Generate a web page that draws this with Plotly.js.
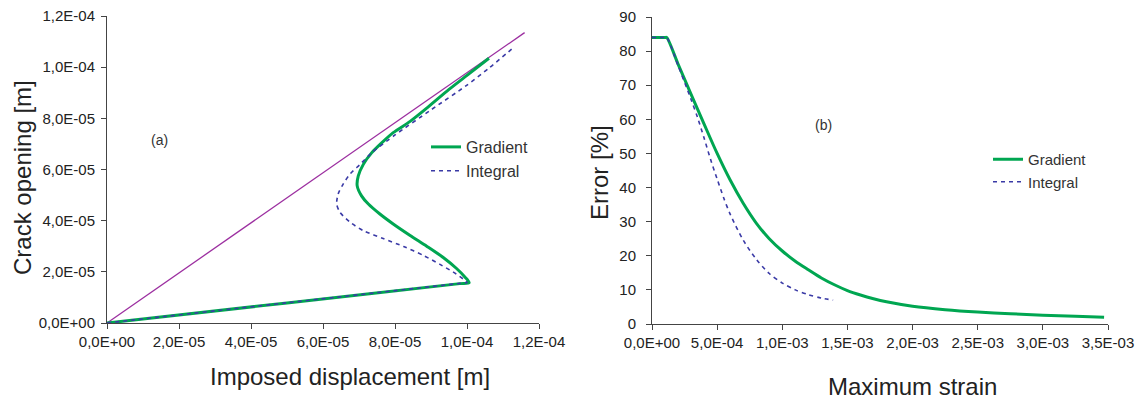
<!DOCTYPE html>
<html>
<head>
<meta charset="utf-8">
<script src="https://cdn.plot.ly/plotly-3.0.1.min.js"></script>
<style>html,body{margin:0;padding:0;background:#fff;}#chart{width:1141px;height:401px;}</style>
</head>
<body>
<div id="chart"></div>
<script>
// ---- Panel (a): crack opening vs imposed displacement ----
const refLineX = [0, 1.16e-4];
const refLineY = [0, 1.135e-4];

const gradAX = [0, 5.0e-5, 9.8e-5, 1.006e-4, 0.994e-4, 0.971e-4, 0.934e-4, 0.888e-4, 0.842e-4, 0.795e-4, 0.758e-4, 0.726e-4, 0.707e-4, 0.695e-4, 0.698e-4, 0.712e-4, 0.735e-4, 0.763e-4, 0.795e-4, 0.842e-4, 0.890e-4, 0.950e-4, 1.000e-4, 1.061e-4];
const gradAY = [0, 7.85e-6, 1.539e-5, 1.58e-5, 1.80e-5, 2.13e-5, 2.56e-5, 3.00e-5, 3.42e-5, 3.87e-5, 4.26e-5, 4.65e-5, 4.97e-5, 5.36e-5, 5.75e-5, 6.20e-5, 6.65e-5, 7.04e-5, 7.44e-5, 7.88e-5, 8.42e-5, 9.13e-5, 9.68e-5, 1.035e-4];

const intAX = [0, 5.0e-5, 9.8e-5, 1.0e-4, 0.994e-4, 0.962e-4, 0.925e-4, 0.879e-4, 0.824e-4, 0.769e-4, 0.712e-4, 0.675e-4, 0.647e-4, 0.638e-4, 0.642e-4, 0.656e-4, 0.675e-4, 0.703e-4, 0.735e-4, 0.800e-4, 0.900e-4, 1.000e-4, 1.060e-4, 1.132e-4];
const intAY = [0, 7.9e-6, 1.548e-5, 1.58e-5, 1.67e-5, 1.99e-5, 2.29e-5, 2.64e-5, 2.99e-5, 3.29e-5, 3.61e-5, 3.94e-5, 4.33e-5, 4.65e-5, 5.04e-5, 5.43e-5, 5.82e-5, 6.20e-5, 6.65e-5, 7.35e-5, 8.33e-5, 9.30e-5, 9.95e-5, 1.08e-4];

const tickAX = [0, 2e-5, 4e-5, 6e-5, 8e-5, 1e-4, 1.2e-4];
const tickAXText = ["0,0E+00", "2,0E-05", "4,0E-05", "6,0E-05", "8,0E-05", "1,0E-04", "1,2E-04"];
const tickAY = [0, 2e-5, 4e-5, 6e-5, 8e-5, 1e-4, 1.2e-4];
const tickAYText = ["0,0E+00", "2,0E-05", "4,0E-05", "6,0E-05", "8,0E-05", "1,0E-04", "1,2E-04"];

// ---- Panel (b): error vs maximum strain ----
const gradBX = [0, 0.1e-3, 0.113e-3, 0.2e-3, 0.3e-3, 0.4e-3, 0.5e-3, 0.6e-3, 0.7e-3, 0.8e-3, 0.9e-3, 1.0e-3, 1.1e-3, 1.2e-3, 1.3e-3, 1.4e-3, 1.5e-3, 1.6e-3, 1.7e-3, 1.8e-3, 2.0e-3, 2.25e-3, 2.5e-3, 2.75e-3, 3.0e-3, 3.25e-3, 3.47e-3];
const gradBY = [84, 84, 84, 76.2, 67.3, 58.6, 50.0, 42.2, 35.4, 29.6, 25.0, 21.4, 18.4, 15.9, 13.5, 11.5, 9.8, 8.5, 7.4, 6.5, 5.2, 4.2, 3.5, 3.0, 2.6, 2.3, 2.0];

const intBX = [0, 0.1e-3, 0.113e-3, 0.2e-3, 0.3e-3, 0.35e-3, 0.4e-3, 0.45e-3, 0.5e-3, 0.55e-3, 0.6e-3, 0.7e-3, 0.8e-3, 0.9e-3, 1.0e-3, 1.1e-3, 1.2e-3, 1.3e-3, 1.39e-3];
const intBY = [84, 84, 84, 75.8, 65.8, 60.5, 54.5, 48.2, 42.5, 37.0, 32.2, 24.6, 19.0, 14.8, 12.0, 10.0, 8.6, 7.6, 7.0];

const tickBX = [0, 0.5e-3, 1.0e-3, 1.5e-3, 2.0e-3, 2.5e-3, 3.0e-3, 3.5e-3];
const tickBXText = ["0,0E+00", "5,0E-04", "1,0E-03", "1,5E-03", "2,0E-03", "2,5E-03", "3,0E-03", "3,5E-03"];
const tickBY = [0, 10, 20, 30, 40, 50, 60, 70, 80, 90];

const GREEN = "#00a651";
const BLUE = "#3a3aa6";
const PURPLE = "#9c2fa0";
const FONT = "Liberation Sans, Arial, sans-serif";

const traces = [
  {x: refLineX, y: refLineY, xaxis: "x", yaxis: "y", mode: "lines", line: {color: PURPLE, width: 1.3}, showlegend: false},
  {x: gradAX, y: gradAY, xaxis: "x", yaxis: "y", mode: "lines", name: "Gradient", line: {color: GREEN, width: 3, shape: "spline", smoothing: 0.7}, legend: "legend", legendrank: 1},
  {x: intAX, y: intAY, xaxis: "x", yaxis: "y", mode: "lines", name: "Integral", line: {color: BLUE, width: 1.6, dash: "4px,4px", shape: "spline", smoothing: 0.7}, legend: "legend", legendrank: 2},
  {x: gradBX, y: gradBY, xaxis: "x2", yaxis: "y2", mode: "lines", name: "Gradient", line: {color: GREEN, width: 3, shape: "spline", smoothing: 0.8}, legend: "legend2", legendrank: 1},
  {x: intBX, y: intBY, xaxis: "x2", yaxis: "y2", mode: "lines", name: "Integral", line: {color: BLUE, width: 1.6, dash: "4px,4px", shape: "spline", smoothing: 0.8}, legend: "legend2", legendrank: 2}
];

const W = 1141, H = 401;
const px = v => v / W;
const py = v => 1 - v / H;

const axisCommon = {
  showgrid: false, zeroline: false, showline: true, linecolor: "#444", linewidth: 1,
  ticks: "outside", ticklen: 5, tickcolor: "#444", tickwidth: 1,
  tickfont: {family: FONT, size: 15, color: "#222"}, tickmode: "array", fixedrange: true
};

const ann = (text, x, y, size, extra) => Object.assign({
  text: text, xref: "paper", yref: "paper", x: px(x), y: py(y), xanchor: "center", yanchor: "middle",
  showarrow: false, font: {family: FONT, size: size, color: "#222"}
}, extra || {});

const layout = {
  width: W, height: H,
  margin: {l: 0, r: 0, t: 0, b: 0},
  paper_bgcolor: "#fff", plot_bgcolor: "#fff",
  font: {family: FONT, color: "#333"},
  xaxis: Object.assign({}, axisCommon, {domain: [px(107), px(539)], range: [0, 1.2e-4], tickvals: tickAX, ticktext: tickAXText, anchor: "y"}),
  yaxis: Object.assign({}, axisCommon, {domain: [py(323), py(16)], range: [0, 1.2e-4], tickvals: tickAY, ticktext: tickAYText, anchor: "x", ticklabelstandoff: 3}),
  xaxis2: Object.assign({}, axisCommon, {domain: [px(652), px(1108)], range: [0, 3.5e-3], tickvals: tickBX, ticktext: tickBXText, anchor: "y2"}),
  yaxis2: Object.assign({}, axisCommon, {domain: [py(324), py(17)], range: [0, 90], tickvals: tickBY, ticktext: tickBY.map(String), anchor: "x2", ticklabelstandoff: 7}),
  legend: {x: px(426), y: py(130), xanchor: "left", yanchor: "top", bgcolor: "rgba(0,0,0,0)", font: {family: FONT, size: 16, color: "#333"}, itemwidth: 30, tracegroupgap: 0},
  legend2: {x: px(988), y: py(143), xanchor: "left", yanchor: "top", bgcolor: "rgba(0,0,0,0)", font: {family: FONT, size: 15, color: "#333"}, itemwidth: 30, tracegroupgap: 0},
  annotations: [
    ann("(a)", 159, 140, 14, {font: {family: FONT, size: 14, color: "#333"}}),
    ann("(b)", 823, 125, 14, {font: {family: FONT, size: 14, color: "#333"}}),
    ann("Imposed displacement [m]", 350, 376, 24),
    ann("Maximum strain", 912, 386, 24),
    ann("Crack opening [m]", 22, 178, 24, {textangle: -90}),
    ann("Error [%]", 599, 173, 24, {textangle: -90})
  ]
};

Plotly.newPlot("chart", traces, layout, {staticPlot: true, displayModeBar: false});
</script>
</body>
</html>
